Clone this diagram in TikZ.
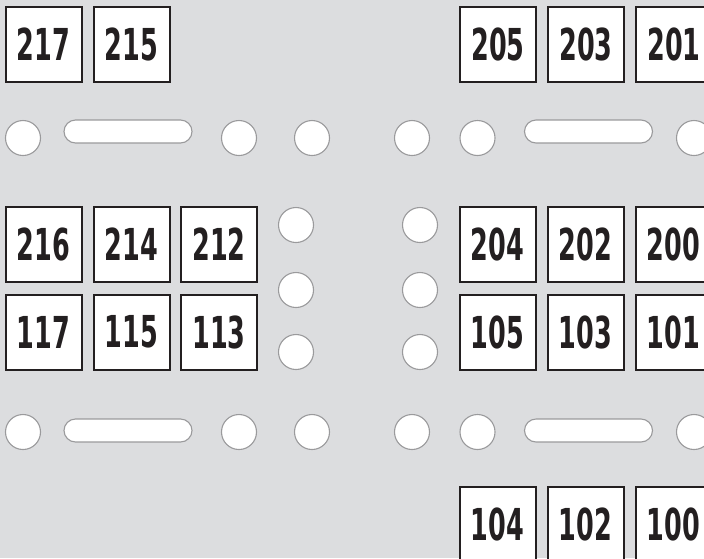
\documentclass[tikz,border=0pt]{standalone}
\usepackage{fontspec}
\newfontfamily\roomfont{DejaVu Sans}[FakeStretch=0.58]
\definecolor{bgc}{HTML}{DCDDDF}
\definecolor{boxline}{HTML}{231F20}
\definecolor{holeline}{HTML}{9A9A9C}
\begin{document}
\begin{tikzpicture}[x=1pt,y=-1pt,
  room/.style={draw=boxline, line width=2pt, fill=white, minimum width=76pt, minimum height=75pt, inner sep=0pt, font=\roomfont\bfseries\fontsize{44}{44}\selectfont, text=boxline},
  hole/.style={circle, draw=holeline, line width=1.1pt, fill=white, minimum size=35pt, inner sep=0pt},
  slot/.style={rectangle, rounded corners=11.5pt, draw=holeline, line width=1.1pt, fill=white, minimum width=128pt, minimum height=23pt, inner sep=0pt}]
\fill[bgc] (0,0) rectangle (704,558);
\useasboundingbox (0,0) rectangle (704,558);
% top row
\node[room] (r217) at (43.5,44.5) {217};
\node[room] (r215) at (131.5,44.5) {215};
\node[room] (r205) at (498,44.5) {205};
\node[room] (r203) at (586,44.5) {203};
\node[room] (r201) at (674,44.5) {201};
% second row
\node[room] (r216) at (43.5,244) {216};
\node[room] (r214) at (131.5,244) {214};
\node[room] (r212) at (219,244) {212};
\node[room] (r204) at (497.5,244) {204};
\node[room] (r202) at (585.5,244) {202};
\node[room] (r200) at (673.5,244) {200};
% third row
\node[room] (r117) at (43.5,332) {117};
\node[room] (r115) at (131.5,332) {115};
\node[room] (r113) at (219,332) {113};
\node[room] (r105) at (497.5,332) {105};
\node[room] (r103) at (585.5,332) {103};
\node[room] (r101) at (673.5,332) {101};
% bottom row
\node[room] (r104) at (497.5,524) {104};
\node[room] (r102) at (585.5,524) {102};
\node[room] (r100) at (673.5,524) {100};
% upper aisle
\node[hole] (ua1) at (23,138) {};
\node[slot] (us1) at (128,131.5) {};
\node[hole] (ua2) at (239,138) {};
\node[hole] (ua3) at (312,138) {};
\node[hole] (ua4) at (412,138) {};
\node[hole] (ua5) at (477.5,138) {};
\node[slot] (us2) at (588.5,131.5) {};
\node[hole] (ua6) at (694,138) {};
% middle columns
\node[hole] (ml1) at (296,225) {};
\node[hole] (ml2) at (296,290) {};
\node[hole] (ml3) at (296,352) {};
\node[hole] (mr1) at (420,225) {};
\node[hole] (mr2) at (420,290) {};
\node[hole] (mr3) at (420,352) {};
% lower aisle
\node[hole] (la1) at (23,432) {};
\node[slot] (ls1) at (128,430.5) {};
\node[hole] (la2) at (239,432) {};
\node[hole] (la3) at (312,432) {};
\node[hole] (la4) at (412,432) {};
\node[hole] (la5) at (477.5,432) {};
\node[slot] (ls2) at (588.5,430.5) {};
\node[hole] (la6) at (694,432) {};
\end{tikzpicture}
\end{document}
